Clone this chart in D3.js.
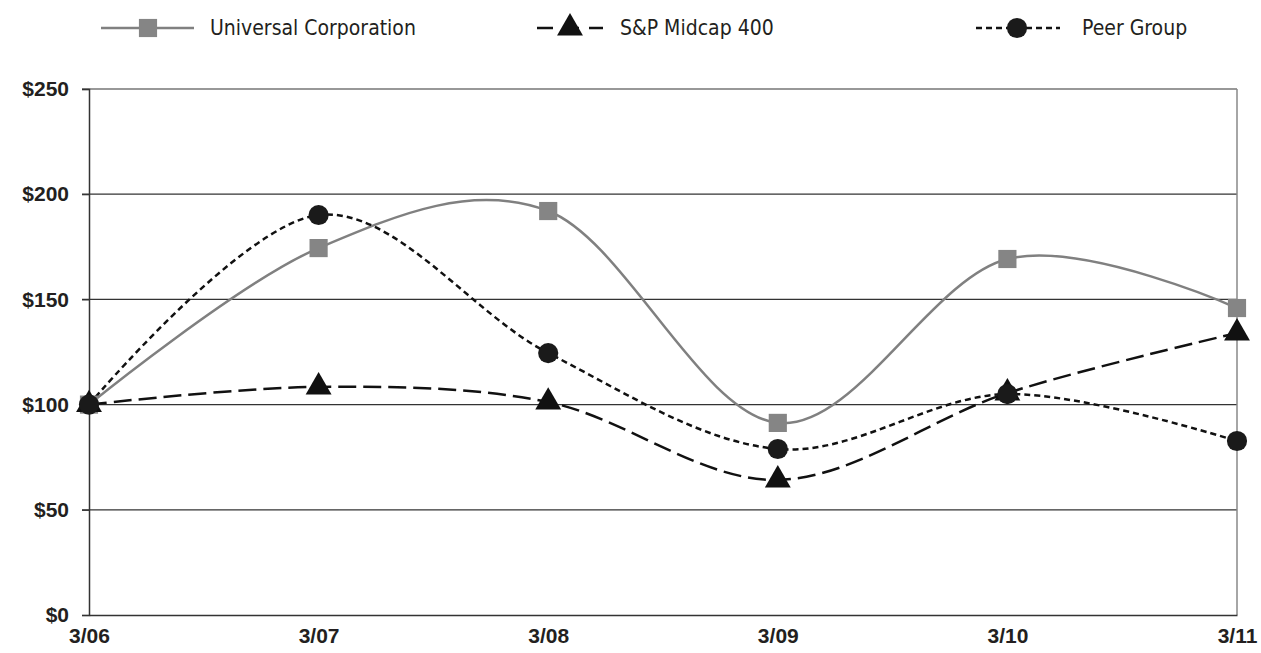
<!DOCTYPE html>
<html>
<head>
<meta charset="utf-8">
<script src="https://cdn.jsdelivr.net/npm/d3@7"></script>
<style>
  body { margin: 0; background: #fff; }
  svg { display: block; }
</style>
</head>
<body>
<svg id="chart" width="1261" height="653"></svg>
<script>
var years = ["3/06", "3/07", "3/08", "3/09", "3/10", "3/11"];
var universal = [100, 174.4, 192, 91.3, 169.2, 145.9];
var midcap = [100, 108.4, 101.2, 64.2, 105.5, 134];
var peer = [100, 190.1, 124.5, 78.9, 105, 82.7];
var yTicks = [0, 50, 100, 150, 200, 250];

var svg = d3.select("#chart");
var plotLeft = 89, plotRight = 1237, plotTop = 89, plotBottom = 615;

var x = d3.scalePoint().domain(years).range([plotLeft, plotRight]);
var y = d3.scaleLinear().domain([0, 250]).range([plotBottom, plotTop]);

// grid lines
svg.append("g").selectAll("line")
  .data(yTicks.filter(function (d) { return d > 0; }))
  .enter().append("line")
  .attr("x1", plotLeft - 7).attr("x2", plotRight)
  .attr("y1", function (d) { return y(d); })
  .attr("y2", function (d) { return y(d); })
  .style("stroke", "#333").style("stroke-width", 1.2);

// right border
svg.append("line")
  .attr("x1", plotRight).attr("x2", plotRight).attr("y1", plotTop).attr("y2", plotBottom)
  .style("stroke", "#888").style("stroke-width", 1.5);

// y axis
var yAxis = svg.append("g")
  .attr("transform", "translate(" + plotLeft + ",0)")
  .call(d3.axisLeft(y).tickValues(yTicks).tickSize(7).tickFormat(function (d) { return "$" + d; }));
yAxis.select(".domain").style("stroke", "#333").style("stroke-width", 1.5);
yAxis.selectAll(".tick line").style("stroke", "#333").style("stroke-width", 1.2);
yAxis.selectAll("text")
  .attr("x", -20)
  .style("font-family", "Liberation Sans, Arial, sans-serif")
  .style("font-weight", "bold").style("font-size", "21px").style("fill", "#231f20");

// x axis
var xAxis = svg.append("g")
  .attr("transform", "translate(0," + plotBottom + ")")
  .call(d3.axisBottom(x).tickSize(0).tickSizeOuter(0));
xAxis.select(".domain").style("stroke", "#333").style("stroke-width", 1.5);
xAxis.selectAll("text")
  .attr("y", 13)
  .style("font-family", "Liberation Sans, Arial, sans-serif")
  .style("font-weight", "bold").style("font-size", "21px").style("fill", "#231f20");

var line = d3.line()
  .x(function (d, i) { return x(years[i]); })
  .y(function (d) { return y(d); })
  .curve(d3.curveCardinal.tension(0));

var series = [
  { values: universal, color: "#808080", dash: null, width: 2.5, marker: "square" },
  { values: midcap, color: "#111", dash: "18,7", width: 2.5, marker: "triangle" },
  { values: peer, color: "#111", dash: "6,4", width: 2.5, marker: "circle" }
];

var symbols = {
  square: d3.symbol().type(d3.symbolSquare).size(330),
  triangle: d3.symbol().type(d3.symbolTriangle).size(290),
  circle: d3.symbol().type(d3.symbolCircle).size(320)
};
var markerColor = { square: "#858585", triangle: "#111", circle: "#1a1a1a" };

series.forEach(function (s) {
  svg.append("path")
    .attr("d", line(s.values))
    .style("fill", "none")
    .style("stroke", s.color)
    .style("stroke-width", s.width)
    .style("stroke-dasharray", s.dash);
});

series.forEach(function (s) {
  svg.append("g").selectAll("path")
    .data(s.values)
    .enter().append("path")
    .attr("d", symbols[s.marker])
    .attr("transform", function (d, i) {
      return "translate(" + x(years[i]) + "," + y(d) + ")";
    })
    .style("fill", markerColor[s.marker]);
});

// legend
var legend = [
  { name: "Universal Corporation", x1: 101, x2: 194, mx: 148, tx: 210, s: series[0] },
  { name: "S&P Midcap 400", x1: 537, x2: 603, mx: 570, tx: 620, s: series[1] },
  { name: "Peer Group", x1: 976, x2: 1060, mx: 1017, tx: 1082, s: series[2] }
];
var ly = 28;
legend.forEach(function (l) {
  var dash = l.s.marker == "triangle" ? "16,10" : l.s.dash;
  svg.append("line")
    .attr("x1", l.x1).attr("x2", l.x2).attr("y1", ly).attr("y2", ly)
    .style("stroke", l.s.color).style("stroke-width", 2.5)
    .style("stroke-dasharray", dash);
  svg.append("path")
    .attr("d", symbols[l.s.marker])
    .attr("transform", "translate(" + l.mx + "," + ly + ")")
    .style("fill", markerColor[l.s.marker]);
  svg.append("text")
    .attr("x", l.tx).attr("y", ly + 7)
    .text(l.name)
    .style("font-family", "Liberation Sans Narrow, DejaVu Sans Condensed, sans-serif")
    .style("font-size", "21px").style("fill", "#231f20");
});
</script>
</body>
</html>
